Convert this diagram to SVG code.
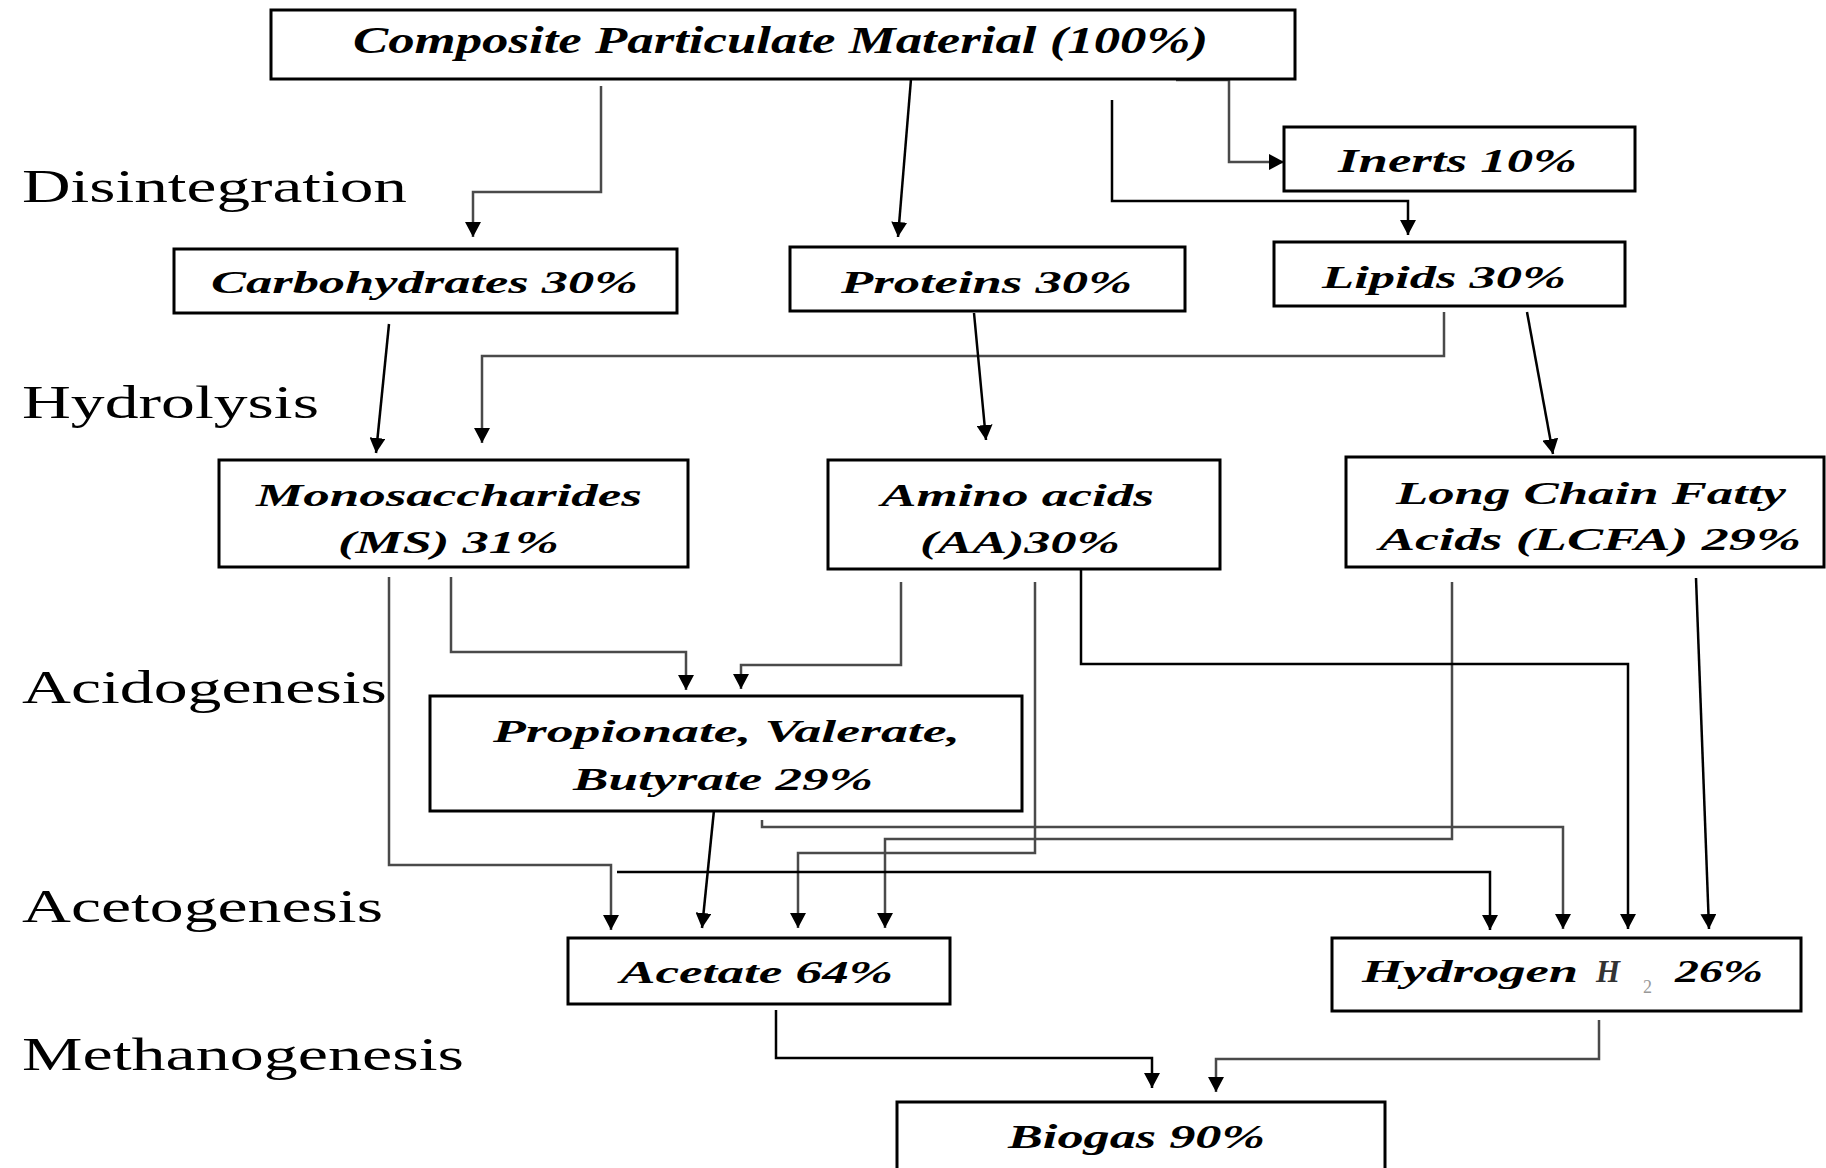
<svg xmlns="http://www.w3.org/2000/svg" width="1826" height="1168" viewBox="0 0 1826 1168">
<style>
.box{fill:#fff;stroke:#000;stroke-width:3}
.nt{font-family:"Liberation Serif","Times New Roman",serif;font-weight:bold;font-style:italic;font-size:31px;fill:#000}
.st{font-family:"Liberation Serif","Times New Roman",serif;font-size:46px;fill:#000}
.c{fill:none;stroke:#000;stroke-width:2.5;marker-end:url(#ah)}
.g{stroke:#4a4a4a}
</style>
<defs>
<marker id="ah" viewBox="0 0 15 16" refX="15" refY="8" markerWidth="15" markerHeight="16" markerUnits="userSpaceOnUse" orient="auto">
<path d="M0,0 L15,8 L0,16 z" fill="#000"/>
</marker>
</defs>
<rect width="1826" height="1168" fill="#fff"/>
<g id="stages">
<text class="st" x="22" y="202" textLength="385" lengthAdjust="spacingAndGlyphs">Disintegration</text>
<text class="st" x="22" y="418" textLength="297" lengthAdjust="spacingAndGlyphs">Hydrolysis</text>
<text class="st" x="22" y="703" textLength="365" lengthAdjust="spacingAndGlyphs">Acidogenesis</text>
<text class="st" x="22" y="922" textLength="361" lengthAdjust="spacingAndGlyphs">Acetogenesis</text>
<text class="st" x="22" y="1070" textLength="442" lengthAdjust="spacingAndGlyphs">Methanogenesis</text>
</g>
<g id="connectors">
<path class="c g" d="M601,86 V192 H473 V237"/>
<path class="c" d="M911,79 L898,237"/>
<path class="c g" d="M1176,80 H1229 V162 H1284"/>
<path class="c" d="M1112,100 V201 H1408 V235"/>
<path class="c" d="M389,324 L376,453"/>
<path class="c g" d="M1444,312 V356 H482 V443"/>
<path class="c" d="M974,313 L986,440"/>
<path class="c" d="M1527,312 L1553,454"/>
<path class="c g" d="M389,577 V865 H611 V930"/>
<path class="c g" d="M451,577 V652 H686 V690"/>
<path class="c g" d="M901,582 V665 H741 V689"/>
<path class="c g" d="M1035,582 V853 H798 V928"/>
<path class="c g" d="M1452,582 V839 H885 V928"/>
<path class="c" d="M1081,569 V664 H1628 V929"/>
<path class="c g" d="M762,820 V827 H1563 V929"/>
<path class="c" d="M617,872 H1490 V930"/>
<path class="c" d="M1696,578 L1709,929"/>
<path class="c" d="M714,810 L702,928"/>
<path class="c" d="M776,1010 V1058 H1152 V1088"/>
<path class="c g" d="M1599,1020 V1059 H1216 V1092"/>
</g>
<g id="composite">
<rect class="box" x="271" y="10" width="1024" height="69"/>
<text class="nt" x="353" y="53" textLength="855" lengthAdjust="spacingAndGlyphs" style="font-size:37px">Composite Particulate Material (100%)</text>
</g>
<g id="inerts">
<rect class="box" x="1284" y="127" width="351" height="64"/>
<text class="nt" x="1338" y="172" textLength="239" lengthAdjust="spacingAndGlyphs" style="font-size:33px">Inerts 10%</text>
</g>
<g id="carbohydrates">
<rect class="box" x="174" y="249" width="503" height="64"/>
<text class="nt" x="211" y="293" textLength="427" lengthAdjust="spacingAndGlyphs">Carbohydrates 30%</text>
</g>
<g id="proteins">
<rect class="box" x="790" y="247" width="395" height="64"/>
<text class="nt" x="841" y="293" textLength="291" lengthAdjust="spacingAndGlyphs">Proteins 30%</text>
</g>
<g id="lipids">
<rect class="box" x="1274" y="242" width="351" height="64"/>
<text class="nt" x="1322" y="288" textLength="244" lengthAdjust="spacingAndGlyphs">Lipids 30%</text>
</g>
<g id="monosaccharides">
<rect class="box" x="219" y="460" width="469" height="107"/>
<text class="nt" x="256" y="506" textLength="386" lengthAdjust="spacingAndGlyphs">Monosaccharides</text>
<text class="nt" x="338" y="553" textLength="221" lengthAdjust="spacingAndGlyphs">(MS) 31%</text>
</g>
<g id="aminoacids">
<rect class="box" x="828" y="460" width="392" height="109"/>
<text class="nt" x="881" y="506" textLength="273" lengthAdjust="spacingAndGlyphs">Amino acids</text>
<text class="nt" x="920" y="553" textLength="200" lengthAdjust="spacingAndGlyphs">(AA)30%</text>
</g>
<g id="lcfa">
<rect class="box" x="1346" y="457" width="478" height="110"/>
<text class="nt" x="1396" y="504" textLength="390" lengthAdjust="spacingAndGlyphs">Long Chain Fatty</text>
<text class="nt" x="1379" y="550" textLength="422" lengthAdjust="spacingAndGlyphs">Acids (LCFA) 29%</text>
</g>
<g id="propionate">
<rect class="box" x="430" y="696" width="592" height="115"/>
<text class="nt" x="493" y="742" textLength="467" lengthAdjust="spacingAndGlyphs">Propionate, Valerate,</text>
<text class="nt" x="573" y="790" textLength="300" lengthAdjust="spacingAndGlyphs">Butyrate 29%</text>
</g>
<g id="acetate">
<rect class="box" x="568" y="938" width="382" height="66"/>
<text class="nt" x="620" y="983" textLength="273" lengthAdjust="spacingAndGlyphs">Acetate 64%</text>
</g>
<g id="hydrogen">
<rect class="box" x="1332" y="938" width="469" height="73"/>
<text class="nt" x="1362" y="982" textLength="216" lengthAdjust="spacingAndGlyphs">Hydrogen</text>
<text class="nt" x="1596" y="982" textLength="24" lengthAdjust="spacingAndGlyphs" style="fill:#333">H</text>
<text class="nt" x="1643" y="993" style="font-weight:normal;font-style:normal;font-size:18px;fill:#999">2</text>
<text class="nt" x="1675" y="982" textLength="88" lengthAdjust="spacingAndGlyphs">26%</text>
</g>
<g id="biogas">
<rect class="box" x="897" y="1102" width="488" height="90"/>
<text class="nt" x="1008" y="1148" textLength="257" lengthAdjust="spacingAndGlyphs" style="font-size:33px">Biogas 90%</text>
</g>
</svg>
